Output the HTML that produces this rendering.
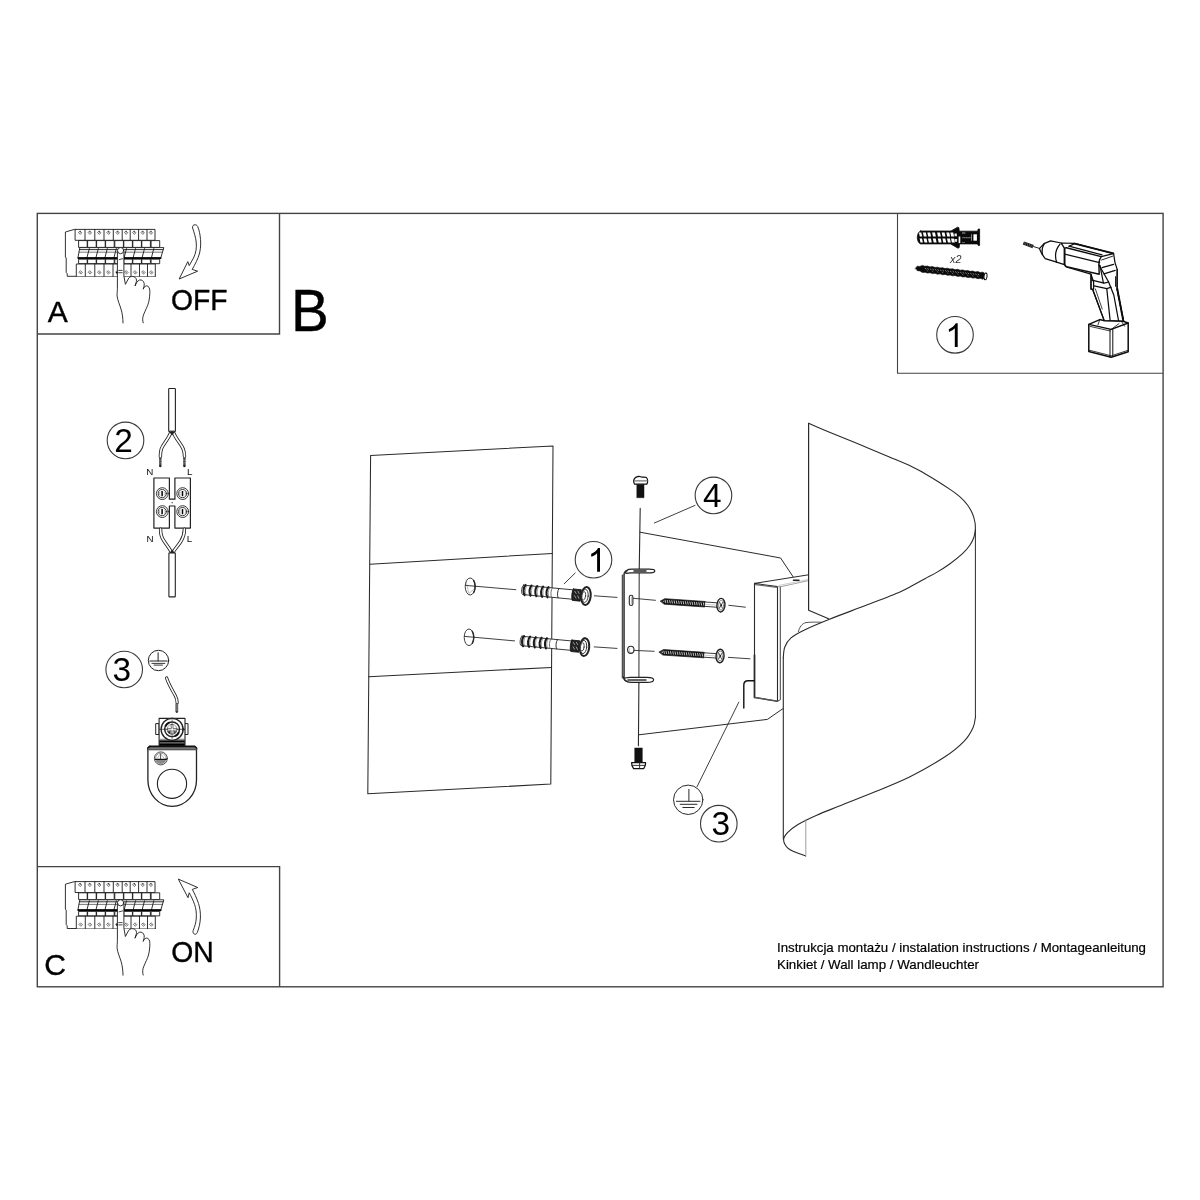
<!DOCTYPE html>
<html><head><meta charset="utf-8"><title>Instrukcja montazu</title>
<style>
html,body{margin:0;padding:0;background:#fff;}
body{width:1200px;height:1200px;overflow:hidden;font-family:"Liberation Sans",sans-serif;}
svg{display:block;will-change:transform;}
</style></head><body>
<svg width="1200" height="1200" viewBox="0 0 1200 1200">
<rect width="1200" height="1200" fill="#fff"/>
<g fill="none" stroke="#444" stroke-width="1.4"><rect x="37.3" y="213.4" width="1125.8" height="773.4"/><path d="M37.3 334H279.5V213.4"/><path d="M37.3 866.6H279.6V986.8"/></g><path d="M897.5 213.4V373.3H1163" fill="none" stroke="#444" stroke-width="1.1"/><g font-family="Liberation Sans, sans-serif" fill="#000" stroke="#000" stroke-width="0.4" stroke-linejoin="round"><text x="47.8" y="322" font-size="30">A</text><text x="44.2" y="974.7" font-size="30">C</text><text x="291" y="330.7" font-size="59" textLength="37.8" lengthAdjust="spacingAndGlyphs">B</text><text x="171" y="309.5" font-size="30" textLength="56.6" lengthAdjust="spacingAndGlyphs">OFF</text><text x="171.2" y="962" font-size="30" textLength="42.5" lengthAdjust="spacingAndGlyphs">ON</text><text x="777" y="951.5" font-size="13.2" stroke-width="0.2" textLength="369" lengthAdjust="spacingAndGlyphs">Instrukcja montażu / instalation instructions / Montageanleitung</text><text x="777" y="969" font-size="13.2" stroke-width="0.2" textLength="202" lengthAdjust="spacingAndGlyphs">Kinkiet / Wall lamp / Wandleuchter</text></g>
<!-- part_10_breaker.svg -->
<g fill="none" stroke="#1a1a1a" stroke-width="0.9" stroke-linejoin="round" stroke-linecap="round"><path d="M75.5 229.4 L74.5 229.4 L65.4 232 L65.4 257 L66.2 258 L66.2 272.4 L67.2 273.6 L67.2 276.3 L155.3 276.3" fill="#fff"/><rect x="75.5" y="229.4" width="79.5" height="10.9" fill="#fff"/><path d="M85 229.4V240.3"/><path d="M94.8 229.4V240.3"/><path d="M104 229.4V240.3"/><path d="M113.3 229.4V240.3"/><path d="M122.2 229.4V240.3"/><path d="M130.2 229.4V240.3"/><path d="M138.6 229.4V240.3"/><path d="M147 229.4V240.3"/><path d="M80.25 231.2l1.5 1.6l-1.5 1.6l-1.5 -1.6z M80.25 231.2v1.2" stroke-width="0.6"/><path d="M89.9 231.2l1.5 1.6l-1.5 1.6l-1.5 -1.6z M89.9 231.2v1.2" stroke-width="0.6"/><path d="M99.4 231.2l1.5 1.6l-1.5 1.6l-1.5 -1.6z M99.4 231.2v1.2" stroke-width="0.6"/><path d="M108.65 231.2l1.5 1.6l-1.5 1.6l-1.5 -1.6z M108.65 231.2v1.2" stroke-width="0.6"/><path d="M117.75 231.2l1.5 1.6l-1.5 1.6l-1.5 -1.6z M117.75 231.2v1.2" stroke-width="0.6"/><path d="M126.19999999999999 231.2l1.5 1.6l-1.5 1.6l-1.5 -1.6z M126.19999999999999 231.2v1.2" stroke-width="0.6"/><path d="M134.39999999999998 231.2l1.5 1.6l-1.5 1.6l-1.5 -1.6z M134.39999999999998 231.2v1.2" stroke-width="0.6"/><path d="M142.8 231.2l1.5 1.6l-1.5 1.6l-1.5 -1.6z M142.8 231.2v1.2" stroke-width="0.6"/><path d="M151.0 231.2l1.5 1.6l-1.5 1.6l-1.5 -1.6z M151.0 231.2v1.2" stroke-width="0.6"/><rect x="79" y="240.6" width="8.2" height="6.8" fill="#fff"/><rect x="88" y="240.6" width="8.2" height="6.8" fill="#fff"/><rect x="97" y="240.6" width="8.2" height="6.8" fill="#fff"/><rect x="106" y="240.6" width="8.2" height="6.8" fill="#fff"/><rect x="115.2" y="240.6" width="8.2" height="6.8" fill="#fff"/><rect x="124.2" y="240.6" width="8.2" height="6.8" fill="#fff"/><rect x="133.2" y="240.6" width="8.2" height="6.8" fill="#fff"/><rect x="142.2" y="240.6" width="8.2" height="6.8" fill="#fff"/><rect x="151.5" y="240.6" width="8.2" height="6.8" fill="#fff"/><path d="M80.2 247.6H163.8L160.8 257.8H78.3Z" fill="#fff"/><path d="M79.8 249.6H163.2" /><path d="M79.3 252.2H162.4" stroke-width="0.6"/><path d="M89.3 248.6L86.89999999999999 257.8"/><path d="M98.3 248.6L95.89999999999999 257.8"/><path d="M107.3 248.6L104.89999999999999 257.8"/><path d="M116.3 248.6L113.89999999999999 257.8"/><path d="M126.5 248.6L124.1 257.8"/><path d="M135.5 248.6L133.1 257.8"/><path d="M144.5 248.6L142.1 257.8"/><path d="M153.8 248.6L151.4 257.8"/><path d="M78.4 258.1H160.6" stroke-width="1.9" stroke="#000"/><rect x="79" y="259.2" width="8.2" height="4.5" fill="#fff"/><rect x="88" y="259.2" width="8.2" height="4.5" fill="#fff"/><rect x="97" y="259.2" width="8.2" height="4.5" fill="#fff"/><rect x="106" y="259.2" width="8.2" height="4.5" fill="#fff"/><rect x="115.2" y="259.2" width="8.2" height="4.5" fill="#fff"/><rect x="124.2" y="259.2" width="8.2" height="4.5" fill="#fff"/><rect x="133.2" y="259.2" width="8.2" height="4.5" fill="#fff"/><rect x="142.2" y="259.2" width="8.2" height="4.5" fill="#fff"/><rect x="151.5" y="259.2" width="8.2" height="4.5" fill="#fff"/><path d="M76.3 276.3V264H155.3V276.3" fill="#fff"/><path d="M85.3 264V276.3"/><path d="M94.8 264V276.3"/><path d="M104 264V276.3"/><path d="M113 264V276.3"/><path d="M122 264V276.3"/><path d="M131 264V276.3"/><path d="M139.5 264V276.3"/><path d="M147.5 264V276.3"/><path d="M80.8 270.9l1.6 1.6l-1.6 1.6l-1.6 -1.6z" stroke-width="0.6"/><circle cx="80.8" cy="272.5" r="0.4" fill="#000" stroke="none"/><path d="M90.05 270.9l1.6 1.6l-1.6 1.6l-1.6 -1.6z" stroke-width="0.6"/><circle cx="90.05" cy="272.5" r="0.4" fill="#000" stroke="none"/><path d="M99.4 270.9l1.6 1.6l-1.6 1.6l-1.6 -1.6z" stroke-width="0.6"/><circle cx="99.4" cy="272.5" r="0.4" fill="#000" stroke="none"/><path d="M108.5 270.9l1.6 1.6l-1.6 1.6l-1.6 -1.6z" stroke-width="0.6"/><circle cx="108.5" cy="272.5" r="0.4" fill="#000" stroke="none"/><path d="M117.5 270.9l1.6 1.6l-1.6 1.6l-1.6 -1.6z" stroke-width="0.6"/><circle cx="117.5" cy="272.5" r="0.4" fill="#000" stroke="none"/><path d="M126.5 270.9l1.6 1.6l-1.6 1.6l-1.6 -1.6z" stroke-width="0.6"/><circle cx="126.5" cy="272.5" r="0.4" fill="#000" stroke="none"/><path d="M135.25 270.9l1.6 1.6l-1.6 1.6l-1.6 -1.6z" stroke-width="0.6"/><circle cx="135.25" cy="272.5" r="0.4" fill="#000" stroke="none"/><path d="M143.5 270.9l1.6 1.6l-1.6 1.6l-1.6 -1.6z" stroke-width="0.6"/><circle cx="143.5" cy="272.5" r="0.4" fill="#000" stroke="none"/><path d="M151.4 270.9l1.6 1.6l-1.6 1.6l-1.6 -1.6z" stroke-width="0.6"/><circle cx="151.4" cy="272.5" r="0.4" fill="#000" stroke="none"/><path d="M123 323 C122.9 318 122.4 313.5 121 309 C119.8 305 117.6 300.5 117.1 296 C116.9 293.5 117.4 291.5 117.4 288.5 L117.4 251 L123.9 251 L123.9 276 L125.4 284.3 L128.8 278 C130 276.4 132.5 276 134.2 276.8 C136 277.6 136.8 279.5 136.4 281.5 L135 286 C136 283.5 137.5 280.5 139.5 280 C141.8 279.5 143.8 281 144.2 283.5 C144.4 286 143.6 287.5 143.2 289.2 C144 286.5 146 285.3 147.8 286.2 C149.8 287.2 150 290.5 149.8 293.5 C149.6 298 149 302 147.6 305.5 C146 309.5 144 313 143 316.5 C142.5 318.8 142.6 321 143.2 322.8" fill="#fff"/><circle cx="120.6" cy="250.6" r="3.1" fill="#fff"/><path d="M119.2 259.6L122.6 258.7M118.7 270.4H122.2M118.7 272.7H122.2" stroke-width="0.8"/><circle cx="116.8" cy="272.6" r="0.8" fill="#000" stroke="none"/></g><g transform="translate(0 652.2)" fill="none" stroke="#1a1a1a" stroke-width="0.9" stroke-linejoin="round" stroke-linecap="round"><path d="M75.5 229.4 L74.5 229.4 L65.4 232 L65.4 257 L66.2 258 L66.2 272.4 L67.2 273.6 L67.2 276.3 L155.3 276.3" fill="#fff"/><rect x="75.5" y="229.4" width="79.5" height="10.9" fill="#fff"/><path d="M85 229.4V240.3"/><path d="M94.8 229.4V240.3"/><path d="M104 229.4V240.3"/><path d="M113.3 229.4V240.3"/><path d="M122.2 229.4V240.3"/><path d="M130.2 229.4V240.3"/><path d="M138.6 229.4V240.3"/><path d="M147 229.4V240.3"/><path d="M80.25 231.2l1.5 1.6l-1.5 1.6l-1.5 -1.6z M80.25 231.2v1.2" stroke-width="0.6"/><path d="M89.9 231.2l1.5 1.6l-1.5 1.6l-1.5 -1.6z M89.9 231.2v1.2" stroke-width="0.6"/><path d="M99.4 231.2l1.5 1.6l-1.5 1.6l-1.5 -1.6z M99.4 231.2v1.2" stroke-width="0.6"/><path d="M108.65 231.2l1.5 1.6l-1.5 1.6l-1.5 -1.6z M108.65 231.2v1.2" stroke-width="0.6"/><path d="M117.75 231.2l1.5 1.6l-1.5 1.6l-1.5 -1.6z M117.75 231.2v1.2" stroke-width="0.6"/><path d="M126.19999999999999 231.2l1.5 1.6l-1.5 1.6l-1.5 -1.6z M126.19999999999999 231.2v1.2" stroke-width="0.6"/><path d="M134.39999999999998 231.2l1.5 1.6l-1.5 1.6l-1.5 -1.6z M134.39999999999998 231.2v1.2" stroke-width="0.6"/><path d="M142.8 231.2l1.5 1.6l-1.5 1.6l-1.5 -1.6z M142.8 231.2v1.2" stroke-width="0.6"/><path d="M151.0 231.2l1.5 1.6l-1.5 1.6l-1.5 -1.6z M151.0 231.2v1.2" stroke-width="0.6"/><rect x="79" y="240.6" width="8.2" height="6.8" fill="#fff"/><rect x="88" y="240.6" width="8.2" height="6.8" fill="#fff"/><rect x="97" y="240.6" width="8.2" height="6.8" fill="#fff"/><rect x="106" y="240.6" width="8.2" height="6.8" fill="#fff"/><rect x="115.2" y="240.6" width="8.2" height="6.8" fill="#fff"/><rect x="124.2" y="240.6" width="8.2" height="6.8" fill="#fff"/><rect x="133.2" y="240.6" width="8.2" height="6.8" fill="#fff"/><rect x="142.2" y="240.6" width="8.2" height="6.8" fill="#fff"/><rect x="151.5" y="240.6" width="8.2" height="6.8" fill="#fff"/><path d="M80.2 247.6H163.8L160.8 257.8H78.3Z" fill="#fff"/><path d="M79.8 249.6H163.2" /><path d="M79.3 252.2H162.4" stroke-width="0.6"/><path d="M89.3 248.6L86.89999999999999 257.8"/><path d="M98.3 248.6L95.89999999999999 257.8"/><path d="M107.3 248.6L104.89999999999999 257.8"/><path d="M116.3 248.6L113.89999999999999 257.8"/><path d="M126.5 248.6L124.1 257.8"/><path d="M135.5 248.6L133.1 257.8"/><path d="M144.5 248.6L142.1 257.8"/><path d="M153.8 248.6L151.4 257.8"/><path d="M78.4 258.1H160.6" stroke-width="1.9" stroke="#000"/><rect x="79" y="259.2" width="8.2" height="4.5" fill="#fff"/><rect x="88" y="259.2" width="8.2" height="4.5" fill="#fff"/><rect x="97" y="259.2" width="8.2" height="4.5" fill="#fff"/><rect x="106" y="259.2" width="8.2" height="4.5" fill="#fff"/><rect x="115.2" y="259.2" width="8.2" height="4.5" fill="#fff"/><rect x="124.2" y="259.2" width="8.2" height="4.5" fill="#fff"/><rect x="133.2" y="259.2" width="8.2" height="4.5" fill="#fff"/><rect x="142.2" y="259.2" width="8.2" height="4.5" fill="#fff"/><rect x="151.5" y="259.2" width="8.2" height="4.5" fill="#fff"/><path d="M76.3 276.3V264H155.3V276.3" fill="#fff"/><path d="M85.3 264V276.3"/><path d="M94.8 264V276.3"/><path d="M104 264V276.3"/><path d="M113 264V276.3"/><path d="M122 264V276.3"/><path d="M131 264V276.3"/><path d="M139.5 264V276.3"/><path d="M147.5 264V276.3"/><path d="M80.8 270.9l1.6 1.6l-1.6 1.6l-1.6 -1.6z" stroke-width="0.6"/><circle cx="80.8" cy="272.5" r="0.4" fill="#000" stroke="none"/><path d="M90.05 270.9l1.6 1.6l-1.6 1.6l-1.6 -1.6z" stroke-width="0.6"/><circle cx="90.05" cy="272.5" r="0.4" fill="#000" stroke="none"/><path d="M99.4 270.9l1.6 1.6l-1.6 1.6l-1.6 -1.6z" stroke-width="0.6"/><circle cx="99.4" cy="272.5" r="0.4" fill="#000" stroke="none"/><path d="M108.5 270.9l1.6 1.6l-1.6 1.6l-1.6 -1.6z" stroke-width="0.6"/><circle cx="108.5" cy="272.5" r="0.4" fill="#000" stroke="none"/><path d="M117.5 270.9l1.6 1.6l-1.6 1.6l-1.6 -1.6z" stroke-width="0.6"/><circle cx="117.5" cy="272.5" r="0.4" fill="#000" stroke="none"/><path d="M126.5 270.9l1.6 1.6l-1.6 1.6l-1.6 -1.6z" stroke-width="0.6"/><circle cx="126.5" cy="272.5" r="0.4" fill="#000" stroke="none"/><path d="M135.25 270.9l1.6 1.6l-1.6 1.6l-1.6 -1.6z" stroke-width="0.6"/><circle cx="135.25" cy="272.5" r="0.4" fill="#000" stroke="none"/><path d="M143.5 270.9l1.6 1.6l-1.6 1.6l-1.6 -1.6z" stroke-width="0.6"/><circle cx="143.5" cy="272.5" r="0.4" fill="#000" stroke="none"/><path d="M151.4 270.9l1.6 1.6l-1.6 1.6l-1.6 -1.6z" stroke-width="0.6"/><circle cx="151.4" cy="272.5" r="0.4" fill="#000" stroke="none"/><path d="M123 323 C122.9 318 122.4 313.5 121 309 C119.8 305 117.6 300.5 117.1 296 C116.9 293.5 117.4 291.5 117.4 288.5 L117.4 251 L123.9 251 L123.9 276 L125.4 284.3 L128.8 278 C130 276.4 132.5 276 134.2 276.8 C136 277.6 136.8 279.5 136.4 281.5 L135 286 C136 283.5 137.5 280.5 139.5 280 C141.8 279.5 143.8 281 144.2 283.5 C144.4 286 143.6 287.5 143.2 289.2 C144 286.5 146 285.3 147.8 286.2 C149.8 287.2 150 290.5 149.8 293.5 C149.6 298 149 302 147.6 305.5 C146 309.5 144 313 143 316.5 C142.5 318.8 142.6 321 143.2 322.8" fill="#fff"/><circle cx="120.6" cy="250.6" r="3.1" fill="#fff"/><path d="M119.2 259.6L122.6 258.7M118.7 270.4H122.2M118.7 272.7H122.2" stroke-width="0.8"/><circle cx="116.8" cy="272.6" r="0.8" fill="#000" stroke="none"/></g><path d="M195 224.8 C193.5 224.6 192.2 226 192.6 228 C194 232 195.6 237 196.2 242 C196.8 248 196 253 193.5 258 L189.2 265.6 L187.8 261.6 L179.2 279 L197.6 271.2 L192.2 269.4 C195 264.5 198 259 199.6 253 C201 247 201 241 200 235 C199.4 231.5 198.6 228.5 197.6 226.4 C197 225.2 196 224.8 195 224.8Z" fill="#fff" stroke="#1a1a1a" stroke-width="0.9" stroke-linejoin="miter"/><path d="M178.3 879.1 L197.7 887.5 L192.3 889.4 C194 892.5 196.5 897.5 198.5 903.5 C200 908 200.6 913 200.4 918 C200.2 923 199 928 197.3 932.4 C196.6 934.2 195.2 934.8 194.2 934 C192.8 933 192.8 931.6 193.2 930.4 C194.8 926.5 196 922.5 196.3 918 C196.6 913 196 908.5 194.6 904.5 C193 900 191 896 189.2 892.8 L188 897.7 Z" fill="#fff" stroke="#1a1a1a" stroke-width="0.9" stroke-linejoin="miter"/>
<!-- part_20_wiring.svg -->
<g fill="none" stroke="#222" stroke-width="1" stroke-linejoin="round" stroke-linecap="round"><path d="M168.7 431.2V389.2Q168.7 388.5 169.4 388.5H174.7Q175.4 388.5 175.4 389.2V431.2Z" fill="#fff" stroke-width="1.1"/><path d="M170.8 432.4 C168.5 439 163.2 444 161.3 449 C160.4 452 160.4 454 160.4 456.6" stroke="#222" stroke-width="3.4" fill="none" stroke-linecap="round"/><path d="M170.8 432.4 C168.5 439 163.2 444 161.3 449 C160.4 452 160.4 454 160.4 456.6" stroke="#fff" stroke-width="1.7" fill="none" stroke-linecap="round"/><path d="M173.4 432.4 C175.8 439 181.2 444 183.2 449 C184.3 452 184.5 454 184.5 456.6" stroke="#222" stroke-width="3.4" fill="none" stroke-linecap="round"/><path d="M173.4 432.4 C175.8 439 181.2 444 183.2 449 C184.3 452 184.5 454 184.5 456.6" stroke="#fff" stroke-width="1.7" fill="none" stroke-linecap="round"/><path d="M169 431.6L172 435.5L175.2 431.6Z" fill="#222" stroke="none"/><path d="M160.3 458V466" stroke="#777" stroke-width="2.3" stroke-linecap="butt"/><path d="M160.3 458V466" stroke="#333" stroke-width="2.3" stroke-dasharray="0.7 0.9" stroke-linecap="butt"/><circle cx="160.3" cy="466" r="1.2" fill="#222" stroke="none"/><path d="M184.4 458V466" stroke="#777" stroke-width="2.3" stroke-linecap="butt"/><path d="M184.4 458V466" stroke="#333" stroke-width="2.3" stroke-dasharray="0.7 0.9" stroke-linecap="butt"/><circle cx="184.4" cy="466" r="1.2" fill="#222" stroke="none"/><path d="M153.9 478H169.4V499.2H174.9V478H190.4V528.1H174.9V506H169.4V528.1H153.9Z" fill="#fff" stroke-width="1.2"/><circle cx="172.2" cy="502.7" r="0.6" fill="#222" stroke="none"/><circle cx="162.3" cy="493.6" r="5.9" stroke-width="0.9"/><circle cx="162.3" cy="493.6" r="4.1" stroke-width="0.9" fill="#fff"/><path d="M159.70000000000002 492.1A3 3 0 0 0 159.70000000000002 495.1M164.9 492.1A3 3 0 0 1 164.9 495.1" stroke-width="0.5" stroke="#555"/><path d="M162.10000000000002 491.0V496.20000000000005" stroke="#000" stroke-width="1.5" stroke-linecap="butt"/><circle cx="162.3" cy="511.6" r="5.9" stroke-width="0.9"/><circle cx="162.3" cy="511.6" r="4.1" stroke-width="0.9" fill="#fff"/><path d="M159.70000000000002 510.1A3 3 0 0 0 159.70000000000002 513.1M164.9 510.1A3 3 0 0 1 164.9 513.1" stroke-width="0.5" stroke="#555"/><path d="M162.10000000000002 509.0V514.2" stroke="#000" stroke-width="1.5" stroke-linecap="butt"/><circle cx="182.7" cy="493.6" r="5.9" stroke-width="0.9"/><circle cx="182.7" cy="493.6" r="4.1" stroke-width="0.9" fill="#fff"/><path d="M180.1 492.1A3 3 0 0 0 180.1 495.1M185.29999999999998 492.1A3 3 0 0 1 185.29999999999998 495.1" stroke-width="0.5" stroke="#555"/><path d="M182.5 491.0V496.20000000000005" stroke="#000" stroke-width="1.5" stroke-linecap="butt"/><circle cx="182.7" cy="511.6" r="5.9" stroke-width="0.9"/><circle cx="182.7" cy="511.6" r="4.1" stroke-width="0.9" fill="#fff"/><path d="M180.1 510.1A3 3 0 0 0 180.1 513.1M185.29999999999998 510.1A3 3 0 0 1 185.29999999999998 513.1" stroke-width="0.5" stroke="#555"/><path d="M182.5 509.0V514.2" stroke="#000" stroke-width="1.5" stroke-linecap="butt"/><path d="M160.6 529.2 C160.4 534 161.6 537.5 164 541 C166.8 545 169.6 548.5 171.3 552" stroke="#222" stroke-width="3.4" fill="none" stroke-linecap="round"/><path d="M160.6 529.2 C160.4 534 161.6 537.5 164 541 C166.8 545 169.6 548.5 171.3 552" stroke="#fff" stroke-width="1.7" fill="none" stroke-linecap="round"/><path d="M184.4 529.2 C184.4 534 183 538 180.8 541.5 C178.2 545.5 175 549 173.2 552" stroke="#222" stroke-width="3.4" fill="none" stroke-linecap="round"/><path d="M184.4 529.2 C184.4 534 183 538 180.8 541.5 C178.2 545.5 175 549 173.2 552" stroke="#fff" stroke-width="1.7" fill="none" stroke-linecap="round"/><path d="M169.6 553L172.2 549.6L174.8 553Z" fill="#222" stroke="none"/><path d="M168.9 553V596.2Q168.9 596.9 169.6 596.9H174.6Q175.3 596.9 175.3 596.2V553Z" fill="#fff" stroke-width="1.1"/></g><g font-family="Liberation Sans, sans-serif" font-size="9.8" fill="#111"><text x="146.3" y="475">N</text><text x="187" y="475">L</text><text x="146.6" y="541.7">N</text><text x="186.8" y="541.7">L</text></g>
<!-- part_30_lug.svg -->
<g fill="none" stroke="#222" stroke-width="1" stroke-linejoin="round" stroke-linecap="round"><circle cx="158.5" cy="660.5" r="10.2" fill="#fff" stroke-width="1.0"/><path d="M158.1 652.7V660.9" stroke-width="1.0"/><path d="M149.8 661.0H167.2" stroke-width="1.1"/><path d="M151.9 663.4H164.8" stroke-width="0.9"/><path d="M154.1 665.1H162.5" stroke-width="0.9"/><path d="M166.6 678 C168.5 684 172.5 690.5 175.2 695.5 C176.8 698.5 177.2 700.5 177.1 702.6" stroke="#222" stroke-width="3.2"/><path d="M166.6 678 C168.5 684 172.5 690.5 175.2 695.5 C176.8 698.5 177.2 700.5 177.1 702.6" stroke="#fff" stroke-width="1.5"/><path d="M176.8 703.6V712" stroke="#777" stroke-width="2.2" stroke-linecap="butt"/><path d="M175.8 703.6V712M177.8 703.6V712" stroke="#333" stroke-width="0.5" stroke-linecap="butt"/><circle cx="176.8" cy="712" r="1.1" fill="#333" stroke="none"/><rect x="156.1" y="723.6" width="3" height="10.9" fill="#fff"/><rect x="185" y="723.6" width="3" height="10.9" fill="#fff"/><rect x="159.1" y="718.4" width="25.9" height="27.4" fill="#fff" stroke-width="1.1"/><rect x="159.3" y="740.3" width="25.5" height="5.6" fill="#000" stroke="none"/><path d="M160.2 742.9H184" stroke="#ddd" stroke-width="0.7"/><path d="M160 739.3H184.4" stroke="#555" stroke-width="0.8"/><circle cx="172.1" cy="729.3" r="11" fill="#fff" stroke-width="1.3"/><circle cx="172.1" cy="729.3" r="7.4" stroke-width="1.5"/><circle cx="172.1" cy="729.3" r="5" stroke-width="0.6" stroke="#555"/><path d="M159.5 729.3H184.29999999999998" stroke-width="0.7"/><path d="M184.7 729.3l-2.2 -1.3v2.6z" fill="#222" stroke-width="0.4"/><path d="M172.1 717.6999999999999V740.5" stroke-width="0.6" stroke="#444"/><path d="M171.2 724.6999999999999h1.8v3.7h3.7v1.8h-3.7v3.7h-1.8v-3.7h-3.7v-1.8h3.7z" fill="#fff" stroke-width="0.6"/><path d="M167.1 731.3A5.4 5.4 0 0 0 170.5 734.4L170.5 731.0999999999999Z" fill="#333" stroke="none"/><path d="M177.1 731.3A5.4 5.4 0 0 1 173.7 734.4L173.7 731.0999999999999Z" fill="#555" stroke="none"/><path d="M165.7 725.6999999999999A7.4 7.4 0 0 1 168.7 722.8M178.5 732.9A7.4 7.4 0 0 1 175.5 735.8" stroke-width="2" stroke="#111"/><path d="M147.9 749.5V780C147.9 794.6 158.8 806.3 172.2 806.3C185.6 806.3 196.5 794.6 196.5 780V749.5" fill="#fff" stroke-width="1.3"/><path d="M149.8 745.9H194.6L196.9 748V749.9H147.5V748Z" fill="#777" stroke="#222" stroke-width="0.6"/><path d="M149.8 746.4H194.6L196.6 748" stroke="#111" stroke-width="1.5" fill="none"/><path d="M147.8 748L149.8 746.4" stroke="#111" stroke-width="1.5"/><circle cx="172" cy="783.8" r="14.6" stroke-width="1.1"/><circle cx="160.9" cy="758.4" r="6.5" stroke-width="0.8"/><circle cx="160.9" cy="758.4" r="5.3" stroke-width="0.6" stroke="#666"/><path d="M155.70000000000002 759.4A5.3 5.3 0 0 0 166.1 759.4Z" fill="#8a8a8a" stroke="none"/><path d="M155.3 759.3H166.5" stroke-width="1.2" stroke="#111"/><path d="M160.6 753.8V759.0" stroke-width="0.8"/><path d="M160.6 753.6L157.3 758.1999999999999M160.6 753.6L164.1 758.1999999999999" stroke-width="0.5" stroke="#777"/></g>
<!-- part_40_parts.svg -->
<g stroke-linejoin="round" stroke-linecap="round"><path d="M920.5 231 H951 L957.6 227.2 L958.8 227.6 L959.3 231.2 H977.6 L978.2 229 H979.6 V245.4 H978.2 L977.6 243.9 H959.6 L959.2 247.6 L958 248.2 L950.6 243.9 H920.5 C918.5 243.2 917.4 240.5 917.3 237.5 C917.4 234.4 918.5 231.8 920.5 231Z" fill="#0a0a0a" stroke="#0a0a0a" stroke-width="0.8"/><path d="M918.9 232.5h2.4l0.9 4h-2.4z" fill="#fff"/><path d="M919.6 238.5h2.4l0.9 4h-2.4z" fill="#fff"/><path d="M922.9 232.5h2.9l0.9 4h-2.9z" fill="#fff"/><path d="M923.6 238.5h2.9l0.9 4h-2.9z" fill="#fff"/><path d="M927.3 232.5h2.9l0.9 4h-2.9z" fill="#fff"/><path d="M928.0 238.5h2.9l0.9 4h-2.9z" fill="#fff"/><path d="M932.1 232.5h2.9l0.9 4h-2.9z" fill="#fff"/><path d="M932.8000000000001 238.5h2.9l0.9 4h-2.9z" fill="#fff"/><path d="M937.1 232.5h2.9l0.9 4h-2.9z" fill="#fff"/><path d="M937.8000000000001 238.5h2.9l0.9 4h-2.9z" fill="#fff"/><path d="M941.7 232.5h2.9l0.9 4h-2.9z" fill="#fff"/><path d="M942.4000000000001 238.5h2.9l0.9 4h-2.9z" fill="#fff"/><path d="M946.3 232.5h2.9l0.9 4h-2.9z" fill="#fff"/><path d="M947.0 238.5h2.9l0.9 4h-2.9z" fill="#fff"/><path d="M950.3 232.5h2.9l0.9 4h-2.9z" fill="#fff"/><path d="M951.0 238.5h2.9l0.9 4h-2.9z" fill="#fff"/><path d="M954.5 233.6h2.4v2.6h-2.4zM954.5 239h2.6v2.8h-2.6z" fill="#e8e8e8"/><path d="M958.6 236.5h1.7v6.6h-1.7z" fill="#fff"/><path d="M962 232.6h3.4v0.8h-3.4z" fill="#ccc"/><path d="M962.6 237.7h8" stroke="#bbb" stroke-width="0.7" stroke-dasharray="0.8 0.9" fill="none"/><path d="M962 242h3v0.6h-3z" fill="#999"/><path d="M971 234.2h0.8v6.6h-0.8z" fill="#aaa"/><path d="M973.4 234.3h3.5v6.4h-3.5z" fill="#fff"/><g transform="translate(915.5 268.2) rotate(6.35)"><path d="M0.0 0.0 L1.5 -2.2 L4.0 -2.2 L6.6 -3.5 L9.1 -2.9 L11.6 -3.5 L14.2 -2.9 L16.7 -3.5 L19.2 -2.9 L21.8 -3.5 L24.3 -2.9 L26.8 -3.5 L29.4 -2.9 L31.9 -3.5 L34.4 -2.9 L37.0 -3.5 L39.5 -2.9 L42.0 -3.5 L44.6 -2.9 L47.1 -3.5 L49.6 -2.9 L52.1 -3.5 L54.7 -2.9 L57.2 -3.5 L59.7 -2.9 L62.3 -3.5 L64.8 -2.9 L67.3 -3.5 L68.8 -2.9 L68.8 2.9 L68.1 3.5 L65.6 2.9 L63.1 3.5 L60.5 2.9 L58.0 3.5 L55.5 2.9 L52.9 3.5 L50.4 2.9 L47.9 3.5 L45.4 2.9 L42.8 3.5 L40.3 2.9 L37.8 3.5 L35.2 2.9 L32.7 3.5 L30.2 2.9 L27.6 3.5 L25.1 2.9 L22.6 3.5 L20.0 2.9 L17.5 3.5 L15.0 2.9 L12.4 3.5 L9.9 2.9 L7.4 3.5 L4.8 2.2 L2.3 2.2Z" fill="#0a0a0a" stroke="#0a0a0a" stroke-width="0.6"/><path d="M9.7 -0.9l0.9 0.5" stroke="#ddd" stroke-width="0.55" fill="none"/><path d="M12.2 -0.9l0.9 0.5" stroke="#ddd" stroke-width="0.55" fill="none"/><path d="M11.8 1.1l0.8 0.4" stroke="#bbb" stroke-width="0.45" fill="none"/><path d="M14.8 -0.9l0.9 0.5" stroke="#ddd" stroke-width="0.55" fill="none"/><path d="M17.3 -0.9l0.9 0.5" stroke="#ddd" stroke-width="0.55" fill="none"/><path d="M16.9 1.1l0.8 0.4" stroke="#bbb" stroke-width="0.45" fill="none"/><path d="M19.8 -0.9l0.9 0.5" stroke="#ddd" stroke-width="0.55" fill="none"/><path d="M22.4 -0.9l0.9 0.5" stroke="#ddd" stroke-width="0.55" fill="none"/><path d="M22.0 1.1l0.8 0.4" stroke="#bbb" stroke-width="0.45" fill="none"/><path d="M24.9 -0.9l0.9 0.5" stroke="#ddd" stroke-width="0.55" fill="none"/><path d="M27.4 -0.9l0.9 0.5" stroke="#ddd" stroke-width="0.55" fill="none"/><path d="M27.0 1.1l0.8 0.4" stroke="#bbb" stroke-width="0.45" fill="none"/><path d="M30.0 -0.9l0.9 0.5" stroke="#ddd" stroke-width="0.55" fill="none"/><path d="M32.5 -0.9l0.9 0.5" stroke="#ddd" stroke-width="0.55" fill="none"/><path d="M32.1 1.1l0.8 0.4" stroke="#bbb" stroke-width="0.45" fill="none"/><path d="M35.0 -0.9l0.9 0.5" stroke="#ddd" stroke-width="0.55" fill="none"/><path d="M37.6 -0.9l0.9 0.5" stroke="#ddd" stroke-width="0.55" fill="none"/><path d="M37.2 1.1l0.8 0.4" stroke="#bbb" stroke-width="0.45" fill="none"/><path d="M40.1 -0.9l0.9 0.5" stroke="#ddd" stroke-width="0.55" fill="none"/><path d="M42.6 -0.9l0.9 0.5" stroke="#ddd" stroke-width="0.55" fill="none"/><path d="M42.2 1.1l0.8 0.4" stroke="#bbb" stroke-width="0.45" fill="none"/><path d="M45.2 -0.9l0.9 0.5" stroke="#ddd" stroke-width="0.55" fill="none"/><path d="M47.7 -0.9l0.9 0.5" stroke="#ddd" stroke-width="0.55" fill="none"/><path d="M47.3 1.1l0.8 0.4" stroke="#bbb" stroke-width="0.45" fill="none"/><path d="M50.2 -0.9l0.9 0.5" stroke="#ddd" stroke-width="0.55" fill="none"/><path d="M52.7 -0.9l0.9 0.5" stroke="#ddd" stroke-width="0.55" fill="none"/><path d="M52.3 1.1l0.8 0.4" stroke="#bbb" stroke-width="0.45" fill="none"/><path d="M55.3 -0.9l0.9 0.5" stroke="#ddd" stroke-width="0.55" fill="none"/><path d="M57.8 -0.9l0.9 0.5" stroke="#ddd" stroke-width="0.55" fill="none"/><path d="M57.4 1.1l0.8 0.4" stroke="#bbb" stroke-width="0.45" fill="none"/><path d="M60.3 -0.9l0.9 0.5" stroke="#ddd" stroke-width="0.55" fill="none"/><path d="M62.9 -0.9l0.9 0.5" stroke="#ddd" stroke-width="0.55" fill="none"/><path d="M62.5 1.1l0.8 0.4" stroke="#bbb" stroke-width="0.45" fill="none"/><ellipse cx="70.5" cy="0.4" rx="1.5" ry="3.4" fill="#fff" stroke="#0a0a0a" stroke-width="1"/></g><text x="950" y="262.6" font-family="Liberation Sans, sans-serif" font-style="italic" font-size="11" fill="#333" textLength="11.4" lengthAdjust="spacingAndGlyphs">x2</text></g>
<!-- part_45_drill.svg -->
<g fill="none" stroke="#0d0d0d" stroke-width="1.25" stroke-linejoin="round" stroke-linecap="round"><path d="M1023.4 243L1033.2 246.6" stroke-width="3.4" stroke-linecap="butt" stroke="#111"/><path d="M1024.6 242.4l0.8 2.4M1027 243.2l0.8 2.6M1029.4 244.2l0.8 2.6M1031.6 245l0.8 2.4" stroke="#aaa" stroke-width="0.5"/><path d="M1033.6 246.6L1039.5 248.4" stroke-width="0.9"/><path d="M1039.4 248.6 L1044 243.6 L1050.6 240.9 L1061.2 243 L1064.4 248 L1064.4 264.6 L1056.6 262.2 L1045.2 258.6 L1042 254.2 Z" fill="#fff"/><path d="M1044.4 243.6C1042.2 247 1041.6 251 1042.6 254.6"/><path d="M1060 244.2C1056 249 1054.6 256 1056.6 262.2"/><path d="M1050.6 240.9C1047.5 246 1046 252 1045.4 258.6" stroke-width="0" /><path d="M1061.2 243 L1074.6 243.4 L1113.6 253.6 L1115 262.6 L1117.2 269.4 L1117 289 L1123.6 321.4 L1104.2 320.6 L1092.8 289.8 L1091 289 L1091 274.2 L1066.2 266.8 L1064.4 264.6 L1064.4 248 Z" fill="#fff"/><path d="M1074.6 243.6L1113.4 253.4" stroke-width="1.6"/><path d="M1069 246.2L1102 254.8"/><path d="M1074.6 243.6L1069 246.2"/><path d="M1066.4 247.8L1101.2 256.6C1099.4 259 1098.8 262 1098.9 265L1099.2 274.2L1066.6 266.6C1065.4 266.2 1064.8 265.4 1064.8 264.2V249.2C1064.8 248.2 1065.4 247.6 1066.4 247.8Z" stroke-width="1.4"/><path d="M1064.8 254.2L1099.6 262.6" stroke-width="1.3"/><path d="M1101.2 256.6L1113.4 253.6"/><path d="M1101.6 260L1112.6 256.2" stroke-width="0.9"/><path d="M1102 267.6L1113.6 264.4"/><path d="M1104 273.8L1115.2 270.4"/><path d="M1099 265L1104 273.8L1108.6 282L1113.8 295L1119 323"/><path d="M1100 265.4L1103.4 283"/><path d="M1091 274.2V289.2H1093.6V282Z" /><path d="M1091.9 280.2L1104.2 283.2L1108.6 282"/><path d="M1094 285.8L1106.8 288.6L1111.2 287.2"/><path d="M1092.8 289.8L1104.2 320.6"/><path d="M1095.4 289L1102.2 309" stroke-width="0.8"/><path d="M1106.8 289L1110.4 323"/><path d="M1115.6 276.6V286.4" stroke-width="1"/><path d="M1117.3 289L1123.4 321.4" stroke-width="2" stroke-dasharray="2 1.2"/><path d="M1117.2 269.4V289L1123.6 321.4"/><path d="M1088.8 324.4 L1099.8 319.6 L1104.4 320.8 L1123 321.2 L1128.2 323 L1128.2 351.8 L1111.2 357.2 L1088.8 351.4 Z" fill="#fff" stroke-width="1.5"/><path d="M1088.8 324.4L1111.2 329.4L1128.2 323" stroke-width="1.4"/><path d="M1090 326.4L1110.4 331" stroke-width="0.8"/><path d="M1110 329.4V357M1112.8 329V356.6" stroke-width="1"/><path d="M1099.8 319.6L1098 324.8M1111.2 329.4L1119 323.6M1121.6 321.6L1124.6 326.2" stroke-width="0.8"/><path d="M1089.4 350.2L1111.2 355.8L1127.8 350.4" stroke-width="0.8"/></g>
<!-- part_50_main.svg -->
<g fill="none" stroke="#2a2a2a" stroke-width="1" stroke-linejoin="round" stroke-linecap="round"><path d="M370.6 455.4L553 446L550.8 784.1L367.8 793.8Z" fill="#fff" stroke-width="1.05"/><path d="M370 564.2L552.3 553.4M368.6 676.8L551.4 667.4" stroke-width="1.05"/><ellipse cx="470.2" cy="586.5" rx="5" ry="8.5" stroke-width="0.9"/><path d="M473.6 580.4A5 8.5 0 0 1 473.6 592.6" stroke-width="1.4"/><ellipse cx="469" cy="637.3" rx="4.8" ry="8.3" stroke-width="0.9"/><path d="M472.3 631.3A4.8 8.3 0 0 1 472.3 643.3" stroke-width="1.4"/><path d="M466 580L468.8 593.6L474 589" stroke-width="0.5" stroke="#888"/><path d="M465.6 585.4L515.8 589.7" stroke-width="0.9"/><path d="M464.6 636.4L514.6 640.9" stroke-width="0.9"/><g transform="translate(521.5 589.7) rotate(5.40)"><path d="M1.5 -4.7H52V4.7H1.5C-0.3 3.4 -0.3 -3.4 1.5 -4.7Z" fill="#fff" stroke-width="0.9"/><path d="M3.6 -5.1C1.6 -2.5 1.6 2.5 3.6 5.1" stroke-width="2.1" stroke="#1a1a1a"/><path d="M5.2 -4.9C3.4 -2.5 3.4 2.5 5.2 4.9" stroke-width="0.6" stroke="#555"/><path d="M9.6 -5.1C7.6 -2.5 7.6 2.5 9.6 5.1" stroke-width="2.1" stroke="#1a1a1a"/><path d="M11.2 -4.9C9.4 -2.5 9.4 2.5 11.2 4.9" stroke-width="0.6" stroke="#555"/><path d="M15.4 -5.1C13.4 -2.5 13.4 2.5 15.4 5.1" stroke-width="2.1" stroke="#1a1a1a"/><path d="M17.0 -4.9C15.200000000000001 -2.5 15.200000000000001 2.5 17.0 4.9" stroke-width="0.6" stroke="#555"/><path d="M21.2 -5.1C19.2 -2.5 19.2 2.5 21.2 5.1" stroke-width="2.1" stroke="#1a1a1a"/><path d="M22.8 -4.9C21.0 -2.5 21.0 2.5 22.8 4.9" stroke-width="0.6" stroke="#555"/><path d="M26.6 -5.1C24.6 -2.5 24.6 2.5 26.6 5.1" stroke-width="2.1" stroke="#1a1a1a"/><path d="M28.200000000000003 -4.9C26.400000000000002 -2.5 26.400000000000002 2.5 28.200000000000003 4.9" stroke-width="0.6" stroke="#555"/><path d="M30.6 -4.7C29.2 -2.5 29.2 2.5 30.6 4.7" stroke-width="0.9" stroke="#666"/><path d="M37.2 -4.7C35.8 -2.5 35.8 2.5 37.2 4.7" stroke-width="0.9"/><path d="M51.6 -5.6H59.6V5.9H51.6C50.2 3.5 50.2 -3.5 51.6 -5.6Z" fill="#222" stroke="#111" stroke-width="0.8"/><path d="M53.2 -3.4l1.6 2M56.4 -3.8l1.4 2.2M53.4 1l1.6 2.2M56.6 0.8l1.4 2.4" stroke="#ddd" stroke-width="0.6"/><ellipse cx="64.8" cy="0.2" rx="4.7" ry="9" fill="#fff" stroke-width="2" stroke="#222"/><ellipse cx="63.8" cy="0.2" rx="3.2" ry="6.6" fill="#fff" stroke-width="0.9"/><ellipse cx="62.6" cy="0.2" rx="1.8" ry="4.2" fill="#fff" stroke-width="0.8"/></g><g transform="translate(520.0 640.8) rotate(5.40)"><path d="M1.5 -4.7H52V4.7H1.5C-0.3 3.4 -0.3 -3.4 1.5 -4.7Z" fill="#fff" stroke-width="0.9"/><path d="M3.6 -5.1C1.6 -2.5 1.6 2.5 3.6 5.1" stroke-width="2.1" stroke="#1a1a1a"/><path d="M5.2 -4.9C3.4 -2.5 3.4 2.5 5.2 4.9" stroke-width="0.6" stroke="#555"/><path d="M9.6 -5.1C7.6 -2.5 7.6 2.5 9.6 5.1" stroke-width="2.1" stroke="#1a1a1a"/><path d="M11.2 -4.9C9.4 -2.5 9.4 2.5 11.2 4.9" stroke-width="0.6" stroke="#555"/><path d="M15.4 -5.1C13.4 -2.5 13.4 2.5 15.4 5.1" stroke-width="2.1" stroke="#1a1a1a"/><path d="M17.0 -4.9C15.200000000000001 -2.5 15.200000000000001 2.5 17.0 4.9" stroke-width="0.6" stroke="#555"/><path d="M21.2 -5.1C19.2 -2.5 19.2 2.5 21.2 5.1" stroke-width="2.1" stroke="#1a1a1a"/><path d="M22.8 -4.9C21.0 -2.5 21.0 2.5 22.8 4.9" stroke-width="0.6" stroke="#555"/><path d="M26.6 -5.1C24.6 -2.5 24.6 2.5 26.6 5.1" stroke-width="2.1" stroke="#1a1a1a"/><path d="M28.200000000000003 -4.9C26.400000000000002 -2.5 26.400000000000002 2.5 28.200000000000003 4.9" stroke-width="0.6" stroke="#555"/><path d="M30.6 -4.7C29.2 -2.5 29.2 2.5 30.6 4.7" stroke-width="0.9" stroke="#666"/><path d="M37.2 -4.7C35.8 -2.5 35.8 2.5 37.2 4.7" stroke-width="0.9"/><path d="M51.6 -5.6H59.6V5.9H51.6C50.2 3.5 50.2 -3.5 51.6 -5.6Z" fill="#222" stroke="#111" stroke-width="0.8"/><path d="M53.2 -3.4l1.6 2M56.4 -3.8l1.4 2.2M53.4 1l1.6 2.2M56.6 0.8l1.4 2.4" stroke="#ddd" stroke-width="0.6"/><ellipse cx="64.8" cy="0.2" rx="4.7" ry="9" fill="#fff" stroke-width="2" stroke="#222"/><ellipse cx="63.8" cy="0.2" rx="3.2" ry="6.6" fill="#fff" stroke-width="0.9"/><ellipse cx="62.6" cy="0.2" rx="1.8" ry="4.2" fill="#fff" stroke-width="0.8"/></g><path d="M575.2 573L564.2 583.8" stroke-width="0.9"/><path d="M594.4 595.8L617 597.4M594.2 646.9L617 648.4" stroke-width="0.9"/><path d="M640.2 508.4L639.2 571M638.9 683L638.4 745.8" stroke-width="1.1"/><path d="M639.2 571L638.9 683" stroke-width="1"/><path d="M626 573.4C624.5 571 627 569.2 632 569.2H649C652.5 569.2 654.8 570 654.8 570.9C654.8 572 652 572.9 648 572.9H631Z" fill="#fff" stroke-width="1.2" stroke="#222"/><path d="M634 570.9H646" stroke-width="1.5" stroke="#222"/><path d="M624.6 678C624 680.5 627 682.4 632 682.4H647C651 682.4 653.6 681.2 653.6 679.8C653.6 678.4 651 677.4 647 677.4H630Z" fill="#fff" stroke-width="1.2" stroke="#222"/><path d="M628 680H646" stroke-width="1.4" stroke="#333"/><path d="M623.2 575.5V677.5" stroke-width="2.2" stroke="#6a6a6a"/><path d="M622.2 575V678M624.5 574V678" stroke-width="0.7" stroke="#222"/><path d="M624 574.5C624 572.5 625.5 571 627.5 570.6M623.4 677C623.6 679.6 625.4 681.2 627.6 681.6" stroke-width="1.3"/><rect x="629.3" y="595.3" width="3.6" height="10.2" rx="1.8" fill="#fff" stroke-width="1.1"/><path d="M631.6 597V604" stroke-width="0.5" stroke="#777"/><ellipse cx="630.8" cy="649.8" rx="3.2" ry="3.6" fill="#fff" stroke-width="1.1"/><path d="M629.8 648.5A2.2 2.6 0 0 0 631 652.8" stroke-width="0.5" stroke="#777"/><path d="M633.4 598.3L655.4 600.3M634 650.4L654.2 651.3" stroke-width="0.9"/><g transform="translate(660.5 601) rotate(3.97)"><path d="M0 0L4.2 -2.6H44.6V2.9H4.2Z" fill="#111" stroke="#111" stroke-width="0.7"/><path d="M4.6 -1.1l0.7 2.4" stroke="#eee" stroke-width="0.75"/><path d="M6.8 -1.1l0.7 2.4" stroke="#eee" stroke-width="0.75"/><path d="M9.1 -1.1l0.7 2.4" stroke="#eee" stroke-width="0.75"/><path d="M11.3 -1.1l0.7 2.4" stroke="#eee" stroke-width="0.75"/><path d="M13.6 -1.1l0.7 2.4" stroke="#eee" stroke-width="0.75"/><path d="M15.8 -1.1l0.7 2.4" stroke="#eee" stroke-width="0.75"/><path d="M18.1 -1.1l0.7 2.4" stroke="#eee" stroke-width="0.75"/><path d="M20.4 -1.1l0.7 2.4" stroke="#eee" stroke-width="0.75"/><path d="M22.6 -1.1l0.7 2.4" stroke="#eee" stroke-width="0.75"/><path d="M24.9 -1.1l0.7 2.4" stroke="#eee" stroke-width="0.75"/><path d="M27.1 -1.1l0.7 2.4" stroke="#eee" stroke-width="0.75"/><path d="M29.4 -1.1l0.7 2.4" stroke="#eee" stroke-width="0.75"/><path d="M31.6 -1.1l0.7 2.4" stroke="#eee" stroke-width="0.75"/><path d="M33.9 -1.1l0.7 2.4" stroke="#eee" stroke-width="0.75"/><path d="M36.1 -1.1l0.7 2.4" stroke="#eee" stroke-width="0.75"/><path d="M38.4 -1.1l0.7 2.4" stroke="#eee" stroke-width="0.75"/><path d="M40.6 -1.1l0.7 2.4" stroke="#eee" stroke-width="0.75"/><path d="M42.9 -1.1l0.7 2.4" stroke="#eee" stroke-width="0.75"/><path d="M1.6 0l2.2 -0.6v1.4z" fill="#ccc" stroke="none"/><path d="M44.6 -2.1H57.0V2.3H44.6Z" fill="#fff" stroke-width="0.9"/><path d="M45.6 0.3H55.6" stroke="#999" stroke-width="0.5"/><ellipse cx="60.6" cy="0" rx="4" ry="6.8" fill="#fff" stroke-width="1.4" stroke="#222"/><ellipse cx="60.9" cy="0" rx="2.6" ry="4.8" stroke-width="0.6" stroke="#444"/><path d="M59.0 -3L62.4 3M62.4 -3.2L59.2 3.2" stroke-width="0.8"/><circle cx="60.9" cy="0" r="0.9" fill="#222" stroke="none"/></g><g transform="translate(659.2 651.9) rotate(3.85)"><path d="M0 0L4.2 -2.6H45.0V2.9H4.2Z" fill="#111" stroke="#111" stroke-width="0.7"/><path d="M4.6 -1.1l0.7 2.4" stroke="#eee" stroke-width="0.75"/><path d="M6.8 -1.1l0.7 2.4" stroke="#eee" stroke-width="0.75"/><path d="M9.1 -1.1l0.7 2.4" stroke="#eee" stroke-width="0.75"/><path d="M11.3 -1.1l0.7 2.4" stroke="#eee" stroke-width="0.75"/><path d="M13.6 -1.1l0.7 2.4" stroke="#eee" stroke-width="0.75"/><path d="M15.8 -1.1l0.7 2.4" stroke="#eee" stroke-width="0.75"/><path d="M18.1 -1.1l0.7 2.4" stroke="#eee" stroke-width="0.75"/><path d="M20.4 -1.1l0.7 2.4" stroke="#eee" stroke-width="0.75"/><path d="M22.6 -1.1l0.7 2.4" stroke="#eee" stroke-width="0.75"/><path d="M24.9 -1.1l0.7 2.4" stroke="#eee" stroke-width="0.75"/><path d="M27.1 -1.1l0.7 2.4" stroke="#eee" stroke-width="0.75"/><path d="M29.4 -1.1l0.7 2.4" stroke="#eee" stroke-width="0.75"/><path d="M31.6 -1.1l0.7 2.4" stroke="#eee" stroke-width="0.75"/><path d="M33.9 -1.1l0.7 2.4" stroke="#eee" stroke-width="0.75"/><path d="M36.1 -1.1l0.7 2.4" stroke="#eee" stroke-width="0.75"/><path d="M38.4 -1.1l0.7 2.4" stroke="#eee" stroke-width="0.75"/><path d="M40.6 -1.1l0.7 2.4" stroke="#eee" stroke-width="0.75"/><path d="M42.9 -1.1l0.7 2.4" stroke="#eee" stroke-width="0.75"/><path d="M1.6 0l2.2 -0.6v1.4z" fill="#ccc" stroke="none"/><path d="M45.0 -2.1H57.4V2.3H45.0Z" fill="#fff" stroke-width="0.9"/><path d="M46.0 0.3H56.0" stroke="#999" stroke-width="0.5"/><ellipse cx="61.0" cy="0" rx="4" ry="6.8" fill="#fff" stroke-width="1.4" stroke="#222"/><ellipse cx="61.3" cy="0" rx="2.6" ry="4.8" stroke-width="0.6" stroke="#444"/><path d="M59.4 -3L62.8 3M62.8 -3.2L59.6 3.2" stroke-width="0.8"/><circle cx="61.3" cy="0" r="0.9" fill="#222" stroke="none"/></g><path d="M728.8 605.3L745.4 607.2M728.4 657.4L750 658.8" stroke-width="0.9"/><rect x="637" y="484" width="7" height="13.7" fill="#111" stroke="#111" stroke-width="0.5"/><path d="M634.6 484.2C633.4 482 633.6 479.4 635 478C636.4 476.8 637.6 476.8 638.6 476.4C640 476 640.8 477.2 642 477.2C643.4 477.2 645.2 476.8 646.4 477.6C648 479 648 482.4 646.8 484.2Z" fill="#fff" stroke="#111" stroke-width="1.2"/><path d="M634.6 480.9H647.2" stroke="#777" stroke-width="1.1"/><rect x="634.9" y="748" width="7.4" height="14.3" fill="#111" stroke="#111" stroke-width="0.5"/><path d="M631.6 762.6H645.6L645.2 765.6L643.8 768.6H633.6L632 765.6Z" fill="#fff" stroke="#111" stroke-width="1.2"/><path d="M632.2 765.4H645M639.6 762.8V768.4" stroke="#222" stroke-width="0.9"/><path d="M695 505.4L654.4 523" stroke-width="0.9"/><path d="M640 532.2L780.6 558L795 579.6" stroke-width="1"/><path d="M638.8 734.8L767.4 719.4L783.3 708.4" stroke-width="1"/><path d="M754.5 583.4L808.5 574.8V581L780.4 586.6L780.5 699.8L777.5 701.2L754.5 697.4Z" fill="#fff" stroke="none"/><path d="M754.5 583.4L808.5 574.8" stroke-width="1"/><path d="M754.5 583.4L777.5 586.6L777.5 701.2L754.5 697.4Z" stroke-width="1.1"/><path d="M754.5 655V697.4" stroke-width="1.7"/><path d="M755.5 584.6L777 587.4" stroke="#666" stroke-width="1.2"/><path d="M780.3 586.8V699.8L777.5 701.2" stroke-width="0.9"/><path d="M777.5 586.6L780.3 586.8L808.5 580.6" stroke="#888" stroke-width="0.8"/><path d="M779 585.4L808.5 579.4" stroke="#aaa" stroke-width="0.6"/><path d="M793.4 580.2H799" stroke-width="1.4" stroke="#222"/><path d="M755 697.6L777.5 701.2" stroke="#555" stroke-width="1.5"/><path d="M754.3 680.8H748C745.4 680.8 743.8 682.6 743.8 685.2V708" stroke-width="1.4" stroke="#111"/><path d="M738.8 702.2L697 786.8" stroke-width="0.9"/><path d="M808.7 423.3 C812.0 424.7 820.3 428.4 828.3 431.7 C836.3 435.0 846.4 439.1 856.7 443.3 C867.0 447.6 880.7 453.3 890.0 457.2 C899.3 461.1 906.7 464.1 912.5 466.9 C918.3 469.6 920.8 471.3 925.0 473.7 C929.2 476.1 933.3 478.6 937.5 481.2 C941.7 483.8 946.2 486.8 950.0 489.4 C953.8 492.0 957.1 494.3 960.0 496.9 C962.9 499.5 965.4 502.2 967.5 505.0 C969.6 507.8 971.2 510.8 972.5 513.7 C973.8 516.6 974.5 519.8 975.0 522.5 C975.5 525.2 975.3 528.8 975.4 530.0 L975.4 530.0 C975.1 531.2 974.7 535.0 973.8 537.5 C972.9 540.0 971.9 542.3 970.0 545.0 C968.1 547.7 965.8 550.6 962.5 553.7 C959.2 556.8 954.2 560.7 950.0 563.7 C945.8 566.7 941.7 569.4 937.5 571.9 C933.3 574.4 929.2 576.4 925.0 578.7 C920.8 581.0 916.7 583.4 912.5 585.6 C908.3 587.8 907.4 588.7 900.0 591.9 C892.6 595.1 879.8 600.0 868.0 604.6 C856.2 609.2 840.0 615.0 829.5 619.2 C819.0 623.4 811.4 626.6 805.0 629.7 C798.6 632.8 794.4 634.9 791.0 637.8 C787.6 640.7 786.1 643.7 784.8 647.0 C783.5 650.3 783.5 655.9 783.3 657.7 L783.3 657.7 L829 619.4 L808.5 610.2 Z" fill="#fff" stroke="none"/><path d="M975.4 530.0 C975.1 531.2 974.7 535.0 973.8 537.5 C972.9 540.0 971.9 542.3 970.0 545.0 C968.1 547.7 965.8 550.6 962.5 553.7 C959.2 556.8 954.2 560.7 950.0 563.7 C945.8 566.7 941.7 569.4 937.5 571.9 C933.3 574.4 929.2 576.4 925.0 578.7 C920.8 581.0 916.7 583.4 912.5 585.6 C908.3 587.8 907.4 588.7 900.0 591.9 C892.6 595.1 879.8 600.0 868.0 604.6 C856.2 609.2 840.0 615.0 829.5 619.2 C819.0 623.4 811.4 626.6 805.0 629.7 C798.6 632.8 794.4 634.9 791.0 637.8 C787.6 640.7 786.1 643.7 784.8 647.0 C783.5 650.3 783.5 655.9 783.3 657.7 L783.3 838 L783.6 839.8 C784.2 838.6 785.1 835.2 787.5 832.7 C789.9 830.2 793.1 827.4 798.0 824.5 C802.9 821.6 809.7 818.3 816.7 815.2 C823.7 812.1 830.3 809.7 840.0 805.8 C849.7 801.9 863.3 796.6 875.0 791.8 C886.7 786.9 898.3 782.5 910.0 776.7 C921.7 770.9 936.0 762.6 945.0 756.8 C954.0 751.0 959.0 746.6 963.7 741.7 C968.4 736.9 971.0 732.0 973.0 727.7 C975.0 723.4 975.2 718.0 975.6 716.0 L975.6 530Z" fill="#fff" stroke="none"/><path d="M798.4 631.6C799.5 627 802 623.4 806 622.6C811 622 816.5 622 821.6 622.3" stroke-width="0.8"/><path d="M808.6 423.3V610.2L828.6 618.8" stroke-width="1.2"/><path d="M808.7 423.3 C812.0 424.7 820.3 428.4 828.3 431.7 C836.3 435.0 846.4 439.1 856.7 443.3 C867.0 447.6 880.7 453.3 890.0 457.2 C899.3 461.1 906.7 464.1 912.5 466.9 C918.3 469.6 920.8 471.3 925.0 473.7 C929.2 476.1 933.3 478.6 937.5 481.2 C941.7 483.8 946.2 486.8 950.0 489.4 C953.8 492.0 957.1 494.3 960.0 496.9 C962.9 499.5 965.4 502.2 967.5 505.0 C969.6 507.8 971.2 510.8 972.5 513.7 C973.8 516.6 974.5 519.8 975.0 522.5 C975.5 525.2 975.3 528.8 975.4 530.0" stroke-width="1.1"/><path d="M975.4 530.0 C975.1 531.2 974.7 535.0 973.8 537.5 C972.9 540.0 971.9 542.3 970.0 545.0 C968.1 547.7 965.8 550.6 962.5 553.7 C959.2 556.8 954.2 560.7 950.0 563.7 C945.8 566.7 941.7 569.4 937.5 571.9 C933.3 574.4 929.2 576.4 925.0 578.7 C920.8 581.0 916.7 583.4 912.5 585.6 C908.3 587.8 907.4 588.7 900.0 591.9 C892.6 595.1 879.8 600.0 868.0 604.6 C856.2 609.2 840.0 615.0 829.5 619.2 C819.0 623.4 811.4 626.6 805.0 629.7 C798.6 632.8 794.4 634.9 791.0 637.8 C787.6 640.7 786.1 643.7 784.8 647.0 C783.5 650.3 783.5 655.9 783.3 657.7" stroke-width="1.1"/><path d="M975.4 530V716" stroke-width="1"/><path d="M783.3 657.7V839" stroke-width="1.1"/><path d="M975.6 716.0 C975.2 718.0 975.0 723.4 973.0 727.7 C971.0 732.0 968.4 736.9 963.7 741.7 C959.0 746.6 954.0 751.0 945.0 756.8 C936.0 762.6 921.7 770.9 910.0 776.7 C898.3 782.5 886.7 786.9 875.0 791.8 C863.3 796.6 849.7 801.9 840.0 805.8 C830.3 809.7 823.7 812.1 816.7 815.2 C809.7 818.3 802.9 821.6 798.0 824.5 C793.1 827.4 789.9 830.2 787.5 832.7 C785.1 835.2 783.6 837.3 783.6 839.8 C783.6 842.3 785.6 845.8 787.5 847.8 C789.4 849.8 792.0 850.6 795.0 852.0 C798.0 853.4 803.8 855.3 805.6 856.0" stroke-width="1.1"/><path d="M805.8 819.8V856" stroke="#888" stroke-width="0.8"/></g><g fill="none" stroke="#2a2a2a" stroke-linecap="round"><circle cx="688.2" cy="799.8" r="14.7" fill="#fff" stroke-width="1"/><path d="M688.9 789.4V801" stroke-width="1"/><path d="M676.4 801.3H700" stroke-width="1"/><path d="M680.2 804.3H697" stroke-width="1"/><path d="M682.8 807.5H694.2" stroke-width="1"/></g><circle cx="125.5" cy="440.4" r="18.3" fill="#fff" stroke="#3a3a3a" stroke-width="1.1"/><text x="114.2" y="451.9" font-size="33.4" font-family="Liberation Sans, sans-serif" fill="#000">2</text><circle cx="124.2" cy="669.5" r="18.3" fill="#fff" stroke="#3a3a3a" stroke-width="1.1"/><text x="112.5" y="680.8" font-size="33.4" font-family="Liberation Sans, sans-serif" fill="#000">3</text><circle cx="955" cy="334.8" r="18.3" fill="#fff" stroke="#3a3a3a" stroke-width="1.1"/><path transform="translate(957.7 346.9)" d="M0 0H-2.9V-18.6C-4.6 -17 -6.9 -15.7 -8.7 -15L-8.9 -17.7C-6 -19 -3.2 -21.2 -1.9 -23.7H0Z" fill="#000"/><circle cx="593.5" cy="559.75" r="18.3" fill="#fff" stroke="#3a3a3a" stroke-width="1.1"/><path transform="translate(600 571.8)" d="M0 0H-2.9V-18.6C-4.6 -17 -6.9 -15.7 -8.7 -15L-8.9 -17.7C-6 -19 -3.2 -21.2 -1.9 -23.7H0Z" fill="#000"/><circle cx="713.45" cy="495.4" r="18.3" fill="#fff" stroke="#3a3a3a" stroke-width="1.1"/><text x="703" y="506.9" font-size="33.4" font-family="Liberation Sans, sans-serif" fill="#000">4</text><circle cx="718.8" cy="823.7" r="18.3" fill="#fff" stroke="#3a3a3a" stroke-width="1.1"/><text x="711.5" y="835.3" font-size="33.4" font-family="Liberation Sans, sans-serif" fill="#000">3</text>
</svg>
</body></html>
